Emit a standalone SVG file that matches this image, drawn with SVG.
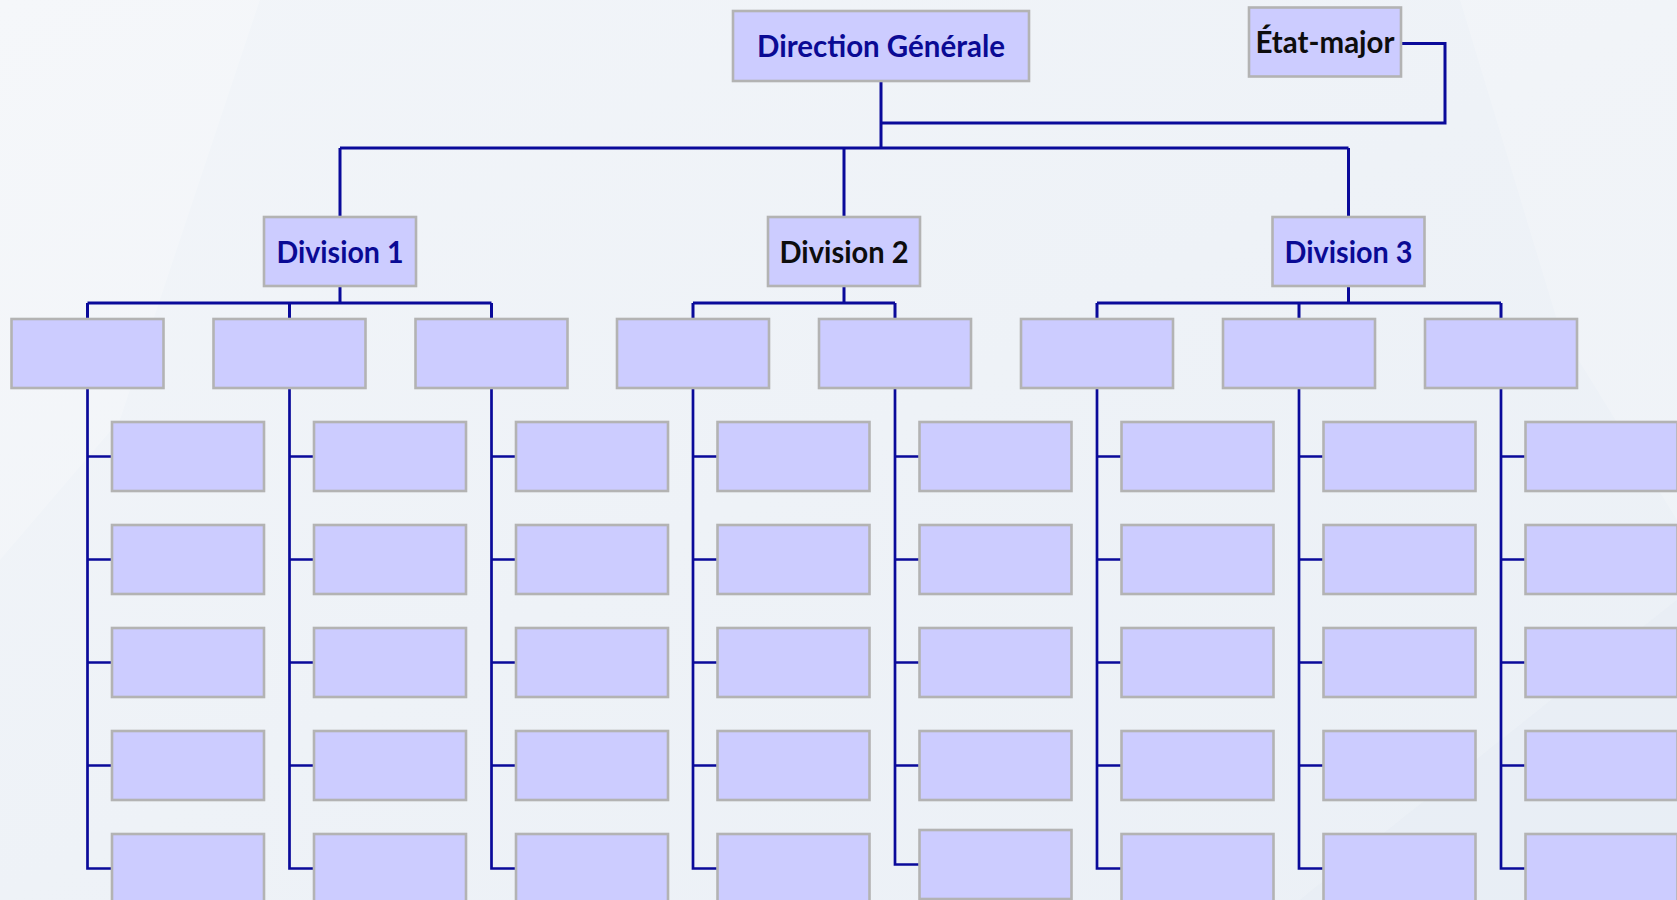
<svg xmlns="http://www.w3.org/2000/svg" width="1677" height="900" viewBox="0 0 1677 900">
  <defs>
    <linearGradient id="bg" x1="0" y1="0" x2="1" y2="1">
      <stop offset="0" stop-color="#f2f5f9"/>
      <stop offset="0.5" stop-color="#eef2f7"/>
      <stop offset="1" stop-color="#ebf0f6"/>
    </linearGradient>
    <style>
      .box { fill: #ccccff; stroke: #b3b3b3; stroke-width: 2.6; }
      .lbl { font-family: Lato, "Open Sans", "Liberation Sans", sans-serif; font-weight: 700; font-size: 30px; text-anchor: middle; }
      .blue { fill: #0a0a94; }
      .black { fill: #0d0d0d; }
      .wire { fill: none; stroke: #0a0a9a; stroke-width: 3; }
      .twig { fill: none; stroke: #0a0a9a; stroke-width: 2.7; }
    </style>
  </defs>

  <!-- backdrop -->
  <rect x="0" y="0" width="1677" height="900" fill="url(#bg)"/>
  <polygon points="0,0 260,0 120,420 0,560" fill="#ffffff" opacity="0.22"/>
  <polygon points="1460,0 1677,0 1677,520 1560,330" fill="#ffffff" opacity="0.2"/>
  <polygon points="1300,900 1677,600 1677,900" fill="#e6ecf3" opacity="0.5"/>

  <!-- connectors -->
  <g id="connectors">
    <!-- top level -->
    <path class="wire" d="M881 81 V148 M340 148 H1348.5 M340 148 V217 M844 148 V217 M1348.5 148 V217"/>
    <path class="wire" d="M1401 43.5 H1445 V123 H881"/>
    <!-- division buses -->
    <path class="wire" d="M340 286 V303 M87.5 303 H491.5 M87.5 303 V319 M289.5 303 V319 M491.5 303 V319"/>
    <path class="wire" d="M844 286 V303 M693 303 H895 M693 303 V319 M895 303 V319"/>
    <path class="wire" d="M1348.5 286 V303 M1097 303 H1501 M1097 303 V319 M1299 303 V319 M1501 303 V319"/>
    <!-- unit columns -->
    <path class="twig" d="M87.5 388 V868.5 H112 M87.5 456.5 H112 M87.5 559.5 H112 M87.5 662.5 H112 M87.5 765.5 H112"/>
    <path class="twig" d="M289.5 388 V868.5 H314 M289.5 456.5 H314 M289.5 559.5 H314 M289.5 662.5 H314 M289.5 765.5 H314"/>
    <path class="twig" d="M491.5 388 V868.5 H516 M491.5 456.5 H516 M491.5 559.5 H516 M491.5 662.5 H516 M491.5 765.5 H516"/>
    <path class="twig" d="M693 388 V868.5 H717.5 M693 456.5 H717.5 M693 559.5 H717.5 M693 662.5 H717.5 M693 765.5 H717.5"/>
    <path class="twig" d="M895 388 V864.5 H919.5 M895 456.5 H919.5 M895 559.5 H919.5 M895 662.5 H919.5 M895 765.5 H919.5"/>
    <path class="twig" d="M1097 388 V868.5 H1121.5 M1097 456.5 H1121.5 M1097 559.5 H1121.5 M1097 662.5 H1121.5 M1097 765.5 H1121.5"/>
    <path class="twig" d="M1299 388 V868.5 H1323.5 M1299 456.5 H1323.5 M1299 559.5 H1323.5 M1299 662.5 H1323.5 M1299 765.5 H1323.5"/>
    <path class="twig" d="M1501 388 V868.5 H1525.5 M1501 456.5 H1525.5 M1501 559.5 H1525.5 M1501 662.5 H1525.5 M1501 765.5 H1525.5"/>
  </g>

  <!-- top management -->
  <g id="direction-generale">
    <rect class="box" x="733" y="11" width="296" height="70"/>
    <text class="lbl blue" x="881" y="57" textLength="248" lengthAdjust="spacingAndGlyphs">Direction Générale</text>
  </g>
  <g id="etat-major">
    <rect class="box" x="1249" y="7.5" width="152" height="69"/>
    <text class="lbl black" x="1325" y="53" textLength="139" lengthAdjust="spacingAndGlyphs">État-major</text>
  </g>

  <!-- divisions -->
  <g id="division-1">
    <rect class="box" x="264" y="217" width="152" height="69"/>
    <text class="lbl blue" x="340" y="263" textLength="127" lengthAdjust="spacingAndGlyphs">Division 1</text>
  </g>
  <g id="division-2">
    <rect class="box" x="768" y="217" width="152" height="69"/>
    <text class="lbl black" x="844" y="263" textLength="129" lengthAdjust="spacingAndGlyphs">Division 2</text>
  </g>
  <g id="division-3">
    <rect class="box" x="1272.5" y="217" width="152" height="69"/>
    <text class="lbl blue" x="1348.5" y="263" textLength="128" lengthAdjust="spacingAndGlyphs">Division 3</text>
  </g>

  <!-- departments -->
  <g id="dept-1"><rect class="box" x="11.5" y="319" width="152" height="69"/></g>
  <g id="dept-2"><rect class="box" x="213.5" y="319" width="152" height="69"/></g>
  <g id="dept-3"><rect class="box" x="415.5" y="319" width="152" height="69"/></g>
  <g id="dept-4"><rect class="box" x="617" y="319" width="152" height="69"/></g>
  <g id="dept-5"><rect class="box" x="819" y="319" width="152" height="69"/></g>
  <g id="dept-6"><rect class="box" x="1021" y="319" width="152" height="69"/></g>
  <g id="dept-7"><rect class="box" x="1223" y="319" width="152" height="69"/></g>
  <g id="dept-8"><rect class="box" x="1425" y="319" width="152" height="69"/></g>

  <!-- units, column 1 -->
  <g id="unit-1-1"><rect class="box" x="112" y="422" width="152" height="69"/></g>
  <g id="unit-1-2"><rect class="box" x="112" y="525" width="152" height="69"/></g>
  <g id="unit-1-3"><rect class="box" x="112" y="628" width="152" height="69"/></g>
  <g id="unit-1-4"><rect class="box" x="112" y="731" width="152" height="69"/></g>
  <g id="unit-1-5"><rect class="box" x="112" y="834" width="152" height="69"/></g>
  <!-- column 2 -->
  <g id="unit-2-1"><rect class="box" x="314" y="422" width="152" height="69"/></g>
  <g id="unit-2-2"><rect class="box" x="314" y="525" width="152" height="69"/></g>
  <g id="unit-2-3"><rect class="box" x="314" y="628" width="152" height="69"/></g>
  <g id="unit-2-4"><rect class="box" x="314" y="731" width="152" height="69"/></g>
  <g id="unit-2-5"><rect class="box" x="314" y="834" width="152" height="69"/></g>
  <!-- column 3 -->
  <g id="unit-3-1"><rect class="box" x="516" y="422" width="152" height="69"/></g>
  <g id="unit-3-2"><rect class="box" x="516" y="525" width="152" height="69"/></g>
  <g id="unit-3-3"><rect class="box" x="516" y="628" width="152" height="69"/></g>
  <g id="unit-3-4"><rect class="box" x="516" y="731" width="152" height="69"/></g>
  <g id="unit-3-5"><rect class="box" x="516" y="834" width="152" height="69"/></g>
  <!-- column 4 -->
  <g id="unit-4-1"><rect class="box" x="717.5" y="422" width="152" height="69"/></g>
  <g id="unit-4-2"><rect class="box" x="717.5" y="525" width="152" height="69"/></g>
  <g id="unit-4-3"><rect class="box" x="717.5" y="628" width="152" height="69"/></g>
  <g id="unit-4-4"><rect class="box" x="717.5" y="731" width="152" height="69"/></g>
  <g id="unit-4-5"><rect class="box" x="717.5" y="834" width="152" height="69"/></g>
  <!-- column 5 -->
  <g id="unit-5-1"><rect class="box" x="919.5" y="422" width="152" height="69"/></g>
  <g id="unit-5-2"><rect class="box" x="919.5" y="525" width="152" height="69"/></g>
  <g id="unit-5-3"><rect class="box" x="919.5" y="628" width="152" height="69"/></g>
  <g id="unit-5-4"><rect class="box" x="919.5" y="731" width="152" height="69"/></g>
  <g id="unit-5-5"><rect class="box" x="919.5" y="830" width="152" height="69"/></g>
  <!-- column 6 -->
  <g id="unit-6-1"><rect class="box" x="1121.5" y="422" width="152" height="69"/></g>
  <g id="unit-6-2"><rect class="box" x="1121.5" y="525" width="152" height="69"/></g>
  <g id="unit-6-3"><rect class="box" x="1121.5" y="628" width="152" height="69"/></g>
  <g id="unit-6-4"><rect class="box" x="1121.5" y="731" width="152" height="69"/></g>
  <g id="unit-6-5"><rect class="box" x="1121.5" y="834" width="152" height="69"/></g>
  <!-- column 7 -->
  <g id="unit-7-1"><rect class="box" x="1323.5" y="422" width="152" height="69"/></g>
  <g id="unit-7-2"><rect class="box" x="1323.5" y="525" width="152" height="69"/></g>
  <g id="unit-7-3"><rect class="box" x="1323.5" y="628" width="152" height="69"/></g>
  <g id="unit-7-4"><rect class="box" x="1323.5" y="731" width="152" height="69"/></g>
  <g id="unit-7-5"><rect class="box" x="1323.5" y="834" width="152" height="69"/></g>
  <!-- column 8 -->
  <g id="unit-8-1"><rect class="box" x="1525.5" y="422" width="152" height="69"/></g>
  <g id="unit-8-2"><rect class="box" x="1525.5" y="525" width="152" height="69"/></g>
  <g id="unit-8-3"><rect class="box" x="1525.5" y="628" width="152" height="69"/></g>
  <g id="unit-8-4"><rect class="box" x="1525.5" y="731" width="152" height="69"/></g>
  <g id="unit-8-5"><rect class="box" x="1525.5" y="834" width="152" height="69"/></g>
</svg>
